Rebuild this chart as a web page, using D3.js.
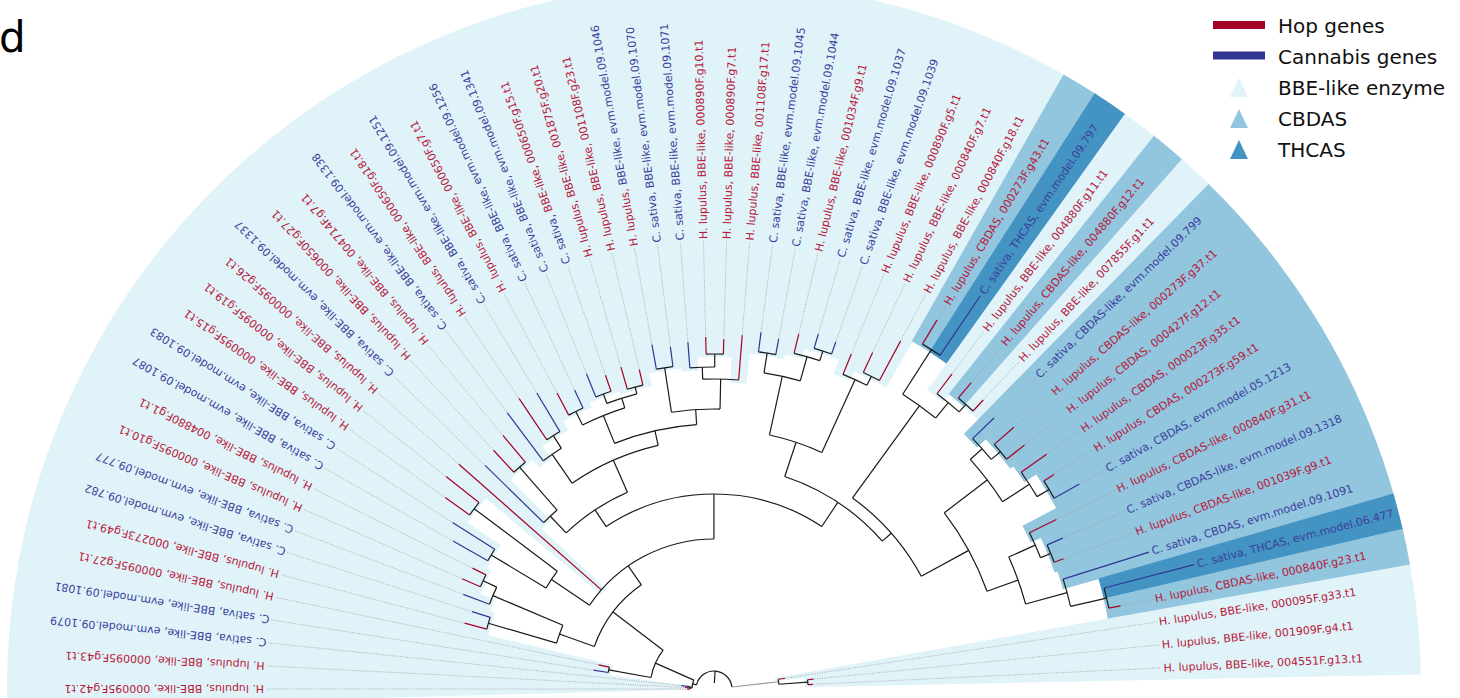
<!DOCTYPE html>
<html>
<head>
<meta charset="utf-8">
<script src="https://cdn.jsdelivr.net/npm/d3@7"></script>
<style>
  body { margin: 0; background: #fff; }
  svg { display: block; font-family: "DejaVu Sans", sans-serif; }
</style>
</head>
<body>
<svg id="chart" width="1460" height="698"></svg>
<script>
// leaves in drawing order, from the bottom left, over the top, to the bottom right
const leafPrefix = ["H","H","C","C","H","H","C","C","H","H","C","C","H","H","H","C","H","H","C","H",
  "C","H","C","C","C","H","H","H","C","C","H","H","H","C","C","H","C","C","H","H",
  "H","H","C","H","H","H","C","H","H","H","H","C","H","C","H","C","C","H","H","H","H"];
const leafType = ["BBE-like","BBE-like","BBE-like","BBE-like","BBE-like","BBE-like","BBE-like","BBE-like","BBE-like","BBE-like",
  "BBE-like","BBE-like","BBE-like","BBE-like","BBE-like","BBE-like","BBE-like","BBE-like","BBE-like","BBE-like",
  "BBE-like","BBE-like","BBE-like","BBE-like","BBE-like","BBE-like","BBE-like","BBE-like","BBE-like","BBE-like",
  "BBE-like","BBE-like","BBE-like","BBE-like","BBE-like","BBE-like","BBE-like","BBE-like","BBE-like","BBE-like",
  "BBE-like","CBDAS","THCAS","BBE-like","CBDAS-like","BBE-like","CBDAS-like","CBDAS-like","CBDAS","CBDAS",
  "CBDAS","CBDAS","CBDAS-like","CBDAS-like","CBDAS-like","CBDAS","THCAS","CBDAS-like","BBE-like","BBE-like","BBE-like"];
const leafId = ["000095F.g42.t1","000095F.g43.t1","evm.model.09.1079","evm.model.09.1081","000095F.g27.t1",
  "000273F.g49.t1","evm.model.09.782","evm.model.09.777","000095F.g10.t1","004880F.g1.t1",
  "evm.model.09.1087","evm.model.09.1083","000095F.g15.t1","000095F.g19.t1","000095F.g26.t1",
  "evm.model.09.1337","000650F.g27.t1","004714F.g7.t1","evm.model.09.1338","000650F.g18.t1",
  "evm.model.09.1251","000650F.g7.t1","evm.model.09.1256","evm.model.09.1341","000650F.g15.t1",
  "001875F.g20.t1","001108F.g23.t1","evm.model.09.1046","evm.model.09.1070","evm.model.09.1071",
  "000890F.g10.t1","000890F.g7.t1","001108F.g17.t1","evm.model.09.1045","evm.model.09.1044",
  "001034F.g9.t1","evm.model.09.1037","evm.model.09.1039","000890F.g5.t1","000840F.g7.t1",
  "000840F.g18.t1","000273F.g43.t1","evm.model.09.797","004880F.g11.t1","004880F.g12.t1",
  "007855F.g1.t1","evm.model.09.799","000273F.g37.t1","000427F.g12.t1","000023F.g35.t1",
  "000273F.g59.t1","evm.model.05.1213","000840F.g31.t1","evm.model.09.1318","001039F.g9.t1",
  "evm.model.09.1091","evm.model.06.477","000840F.g23.t1","000095F.g33.t1","001909F.g4.t1","004551F.g13.t1"];

// tree with branch lengths, leaves named L1..L61
const newick = "((" +
  "((L1:.003,L2:.005,L3:.009):.002," +
  "((L4:.015,L5:.011):.043," +
  "(" +
  "((L6:.023,L7:.019):.071,(L8:.028,(L9:.020,L10:.015):.015):.076):.037," +
  "(" +
  "((L11:.040,L12:.050):.064,(L13:.030,L14:.042):.104):.046," +
  "L15:.190," +
  "(" +
  "(" +
  "(L16:.082,(L17:.030,L18:.035):.057):.023," +
  "(" +
  "(L19:.060,(L20:.050,L21:.045):.015):.035," +
  "(" +
  "((L22:.025,L23:.020):.015,((L24:.025,L25:.017):.010,(L26:.023,L27:.016):.007):.010):.030," +
  "((L28:.025,L29:.020):.045,((L30:.026,(L31:.017,L32:.015):.013):.012,L33:.045):.030):.015" +
  "):.015" +
  "):.035" +
  "):.020," +
  "(" +
  "(((L34:.020,L35:.016):.020,(L36:.020,(L37:.015,L38:.013):.010):.025):.060,(L39:.022,(L40:.022,L41:.045):.010):.080):.036," +
  "(" +
  "((L42:.028,L43:.072):.053,(L44:.025,(L45:.020,L46:.015):.010):.020):.114," +
  "(" +
  "((L47:.030,(L48:.026,L49:.023):.012):.016,(L50:.031,(L51:.012,L52:.029):.014):.032):.054," +
  "((L53:.030,(L54:.017,L55:.010):.011):.029,(L56:.090,(L57:.093,L58:.012):.037):.043):.033" +
  "):.054" +
  "):.012" +
  "):.029" +
  "):.045" +
  "):.023" +
  "):.063" +
  "):.042" +
  "):.004," +
  "(L59:.007,(L60:.006,L61:.005):.029):.047" +
  "):.012);";

const legendLines = [{ label: "Hop genes", sp: "H" }, { label: "Cannabis genes", sp: "C" }];
const legendRanges = [{ label: "BBE-like enzyme", cls: "BBE" }, { label: "CBDAS", cls: "CBDAS" }, { label: "THCAS", cls: "THCAS" }];

const lineColor = { H: "#a50026", C: "#313695" };
const textColor = { H: "#b8173a", C: "#3b409c" };
const rangeColor = { BBE: "#e0f3f8", CBDAS: "#92c5de", THCAS: "#4393c3" };
const speciesName = { H: "H. lupulus", C: "C. sativa" };

function parseNewick(s) {
  let i = 0;
  function node() {
    const n = { children: [], name: "", length: 0 };
    if (s[i] === "(") {
      i++;
      do { n.children.push(node()); } while (s[i++] === ",");
    }
    while (i < s.length && !",():;".includes(s[i])) n.name += s[i++];
    if (s[i] === ":") {
      i++;
      let num = "";
      while (i < s.length && !",();".includes(s[i])) num += s[i++];
      n.length = +num;
    }
    return n;
  }
  return node();
}

const cx = 714, cy = 689;
const outerR = 707, labelMin = 450;

const svg = d3.select("#chart");
const g = svg.append("g");

const root = d3.hierarchy(parseNewick(newick), d => d.children.length ? d.children : null);
root.eachBefore(d => { d.len = d.parent ? d.parent.len + d.data.length : 0; });

const leaves = root.leaves();
const idx = d => +d.data.name.slice(1) - 1;

const rScale = d3.scaleLinear().domain([0, 0.45]).range([6, 456]);
const aScale = d3.scaleLinear().domain([0, leaves.length - 1]).range([180, 2.7]);
const step = Math.abs(aScale(1) - aScale(0));

root.eachAfter(d => {
  d.r = rScale(d.len);
  d.a = d.children ? d3.mean(d.children, c => c.a) : aScale(idx(d));
});

const rad = a => a * Math.PI / 180;
const pt = (a, r) => [cx + r * Math.cos(rad(a)), cy - r * Math.sin(rad(a))];

// coloured ranges behind each leaf, starting at the parent node
const cls = t => t.startsWith("THCAS") ? "THCAS" : t.startsWith("CBDAS") ? "CBDAS" : "BBE";
const wedge = d3.arc();
g.append("g").selectAll("path").data(leaves).join("path")
  .attr("transform", `translate(${cx},${cy})`)
  .attr("d", d => wedge({
    innerRadius: d.parent.r - 3,
    outerRadius: outerR,
    startAngle: rad(90 - d.a - step / 2 - 0.05),
    endAngle: rad(90 - d.a + step / 2 + 0.05)
  }))
  .attr("fill", d => rangeColor[cls(leafType[idx(d)])]);

// dotted guides from tips to labels
const labelR = d => Math.max(labelMin, d.r + 3);
g.append("g").selectAll("line").data(leaves.filter(d => labelR(d) - d.r > 4)).join("line")
  .attr("x1", d => pt(d.a, d.r + 1)[0]).attr("y1", d => pt(d.a, d.r + 1)[1])
  .attr("x2", d => pt(d.a, labelR(d) - 2)[0]).attr("y2", d => pt(d.a, labelR(d) - 2)[1])
  .attr("stroke", "#9a9a9a").attr("stroke-width", 0.8).attr("stroke-dasharray", "1,1.4");

// tree branches
const geneSp = d => leafId[idx(d)].startsWith("evm") ? "C" : "H";
const branches = g.append("g").attr("fill", "none").attr("stroke-width", 1.2);
branches.selectAll("path.radial").data(root.descendants().filter(d => d.parent)).join("path")
  .attr("class", "radial")
  .attr("d", d => `M${pt(d.a, d.parent.r)}L${pt(d.a, d.r)}`)
  .attr("stroke", d => d.children ? (d.parent.depth === 1 && d.a < 30 ? "#9a9a9a" : "#1a1a1a") : lineColor[geneSp(d)]);
branches.selectAll("path.arc").data(root.descendants().filter(d => d.children && d.children.length > 1)).join("path")
  .attr("class", "arc")
  .attr("d", d => {
    const a1 = d.children[0].a, a2 = d.children[d.children.length - 1].a;
    return `M${pt(a1, d.r)}A${d.r},${d.r} 0 ${a1 - a2 > 180 ? 1 : 0} 1 ${pt(a2, d.r)}`;
  })
  .attr("stroke", "#1a1a1a");

// leaf labels
const labels = g.append("g").attr("font-size", 11);
const lab = labels.selectAll("text").data(leaves).join("text")
  .attr("transform", d => { const p = pt(d.a, labelR(d)); return `translate(${p}) rotate(${-d.a})`; })
  .attr("dy", "0.35em");
lab.append("tspan")
  .attr("fill", d => textColor[leafPrefix[idx(d)]])
  .text(d => speciesName[leafPrefix[idx(d)]] + ", ");
lab.append("tspan")
  .attr("fill", d => textColor[geneSp(d)])
  .text(d => leafType[idx(d)] + ", " + leafId[idx(d)]);

// legend
const lg = svg.append("g").attr("font-size", 20).attr("fill", "#111");
lg.selectAll("line").data(legendLines).join("line")
  .attr("x1", 1213).attr("x2", 1265)
  .attr("y1", (d, i) => 25 + i * 30.5).attr("y2", (d, i) => 25 + i * 30.5)
  .attr("stroke", d => lineColor[d.sp]).attr("stroke-width", 8);
lg.selectAll("path").data(legendRanges).join("path")
  .attr("d", (d, i) => { const y = 78 + i * 31; return `M1239,${y}L1248,${y + 19}L1230,${y + 19}Z`; })
  .attr("fill", d => rangeColor[d.cls]);
lg.selectAll("text").data([...legendLines, ...legendRanges]).join("text")
  .attr("x", 1278).attr("y", (d, i) => 33 + i * 31)
  .text(d => d.label);

svg.append("text").attr("x", -1).attr("y", 52).attr("font-size", 42).attr("fill", "#000").text("d");
</script>
</body>
</html>
